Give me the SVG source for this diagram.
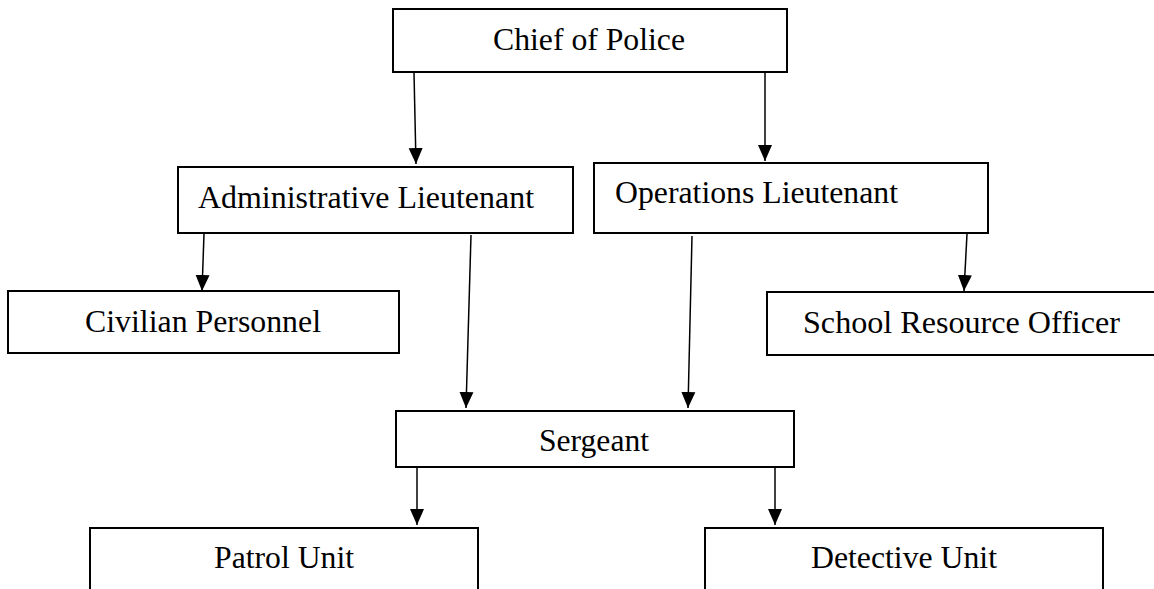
<svg xmlns="http://www.w3.org/2000/svg" width="1154" height="589" viewBox="0 0 1154 589">
<style>
.box{fill:#fff;stroke:#000;stroke-width:2}
.lbl{font-family:"Liberation Serif","Times New Roman",serif;font-size:32px;fill:#000}
.conn{stroke:#000;stroke-width:1.5;fill:none}
</style>
<defs>
<marker id="ah" markerUnits="userSpaceOnUse" markerWidth="16" markerHeight="16" viewBox="0 0 16 14" refX="16" refY="7" orient="auto">
<path d="M0,0 L16,7 L0,14 Z" fill="#000"/>
</marker>
</defs>
<rect width="1154" height="589" fill="#fff"/>
<g id="chief"><rect class="box" x="393" y="9" width="394" height="63"/><text class="lbl" x="493" y="50" textLength="192" lengthAdjust="spacingAndGlyphs">Chief of Police</text></g>
<g id="admin"><rect class="box" x="178" y="167" width="395" height="66"/><text class="lbl" x="198" y="208" textLength="336" lengthAdjust="spacingAndGlyphs">Administrative Lieutenant</text></g>
<g id="ops"><rect class="box" x="594" y="163" width="394" height="70"/><text class="lbl" x="615" y="203" textLength="283" lengthAdjust="spacingAndGlyphs">Operations Lieutenant</text></g>
<g id="civilian"><rect class="box" x="8" y="291" width="391" height="62"/><text class="lbl" x="85" y="332" textLength="236" lengthAdjust="spacingAndGlyphs">Civilian Personnel</text></g>
<g id="sro"><rect class="box" x="767" y="292" width="400" height="63"/><text class="lbl" x="803" y="333" textLength="317" lengthAdjust="spacingAndGlyphs">School Resource Officer</text></g>
<g id="sergeant"><rect class="box" x="396" y="411" width="398" height="56"/><text class="lbl" x="539" y="451" textLength="110" lengthAdjust="spacingAndGlyphs">Sergeant</text></g>
<g id="patrol"><rect class="box" x="90" y="528" width="388" height="80"/><text class="lbl" x="214" y="568" textLength="140" lengthAdjust="spacingAndGlyphs">Patrol Unit</text></g>
<g id="detective"><rect class="box" x="705" y="528" width="398" height="80"/><text class="lbl" x="811" y="568" textLength="186" lengthAdjust="spacingAndGlyphs">Detective Unit</text></g>
<g id="connectors">
<line class="conn" x1="414" y1="73" x2="416" y2="164" marker-end="url(#ah)"/>
<line class="conn" x1="765" y1="73" x2="765" y2="161" marker-end="url(#ah)"/>
<line class="conn" x1="204" y1="234" x2="202" y2="291" marker-end="url(#ah)"/>
<line class="conn" x1="471" y1="235" x2="466" y2="408" marker-end="url(#ah)"/>
<line class="conn" x1="692" y1="236" x2="688" y2="408" marker-end="url(#ah)"/>
<line class="conn" x1="967" y1="234" x2="964" y2="291" marker-end="url(#ah)"/>
<line class="conn" x1="417" y1="468" x2="417" y2="525" marker-end="url(#ah)"/>
<line class="conn" x1="775" y1="468" x2="775" y2="525" marker-end="url(#ah)"/>
</g>
</svg>
